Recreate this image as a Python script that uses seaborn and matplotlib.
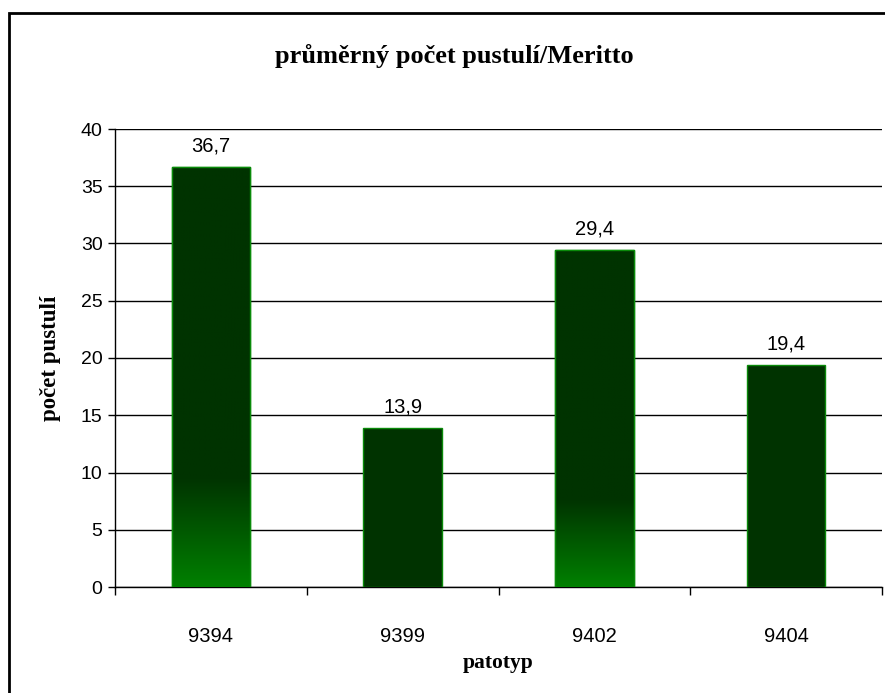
import numpy as np
import pandas as pd
import matplotlib
matplotlib.use("Agg")
import matplotlib.pyplot as plt
from matplotlib.colors import LinearSegmentedColormap
from matplotlib.patches import Rectangle
import seaborn as sns

# data
patotypes = ["9394", "9399", "9402", "9404"]
pustules = [36.7, 13.9, 29.4, 19.4]
gradient_bars = [True, False, True, False]
y_ticks = [0, 5, 10, 15, 20, 25, 30, 35, 40]

df = pd.DataFrame({"patotyp": patotypes, "pustule": pustules})

sns.set_theme(style="white")
plt.rcParams["font.family"] = ["Liberation Sans", "DejaVu Sans"]

DARK = "#003300"
BRIGHT = "#008000"
EDGE = "#0a8a0a"

fig = plt.figure(figsize=(8.85, 6.93), dpi=100)
fig.patch.set_facecolor("white")
ax = fig.add_axes([115 / 885, (693 - 587) / 693, (882 - 115) / 885, (587 - 129) / 693])

sns.barplot(data=df, x="patotyp", y="pustule", ax=ax, color=DARK,
            width=0.41, edgecolor=EDGE, linewidth=1.0, saturation=1, zorder=3)

# vertical fade towards the base of selected bars
cmap = LinearSegmentedColormap.from_list("fade", [BRIGHT, DARK])
for patch, grad in zip(ax.patches, gradient_bars):
    if not grad:
        continue
    x0, y0 = patch.get_x(), patch.get_y()
    w, h = patch.get_width(), patch.get_height()
    t = np.linspace(0, 1, 256)
    vals = np.clip(t / 0.26, 0, 1).reshape(-1, 1)
    im = ax.imshow(vals, cmap=cmap, aspect="auto", origin="lower",
                   extent=[x0, x0 + w, y0, y0 + h], zorder=3.5,
                   interpolation="bilinear")
    im.set_clip_path(patch)
    ax.add_patch(Rectangle((x0, y0), w, h, fill=False, edgecolor=EDGE,
                           linewidth=1.0, zorder=4))

# value labels
for patch, v in zip(ax.patches, pustules):
    ax.text(patch.get_x() + patch.get_width() / 2, v + 1.0,
            f"{v:.1f}".replace(".", ","), ha="center", va="bottom",
            fontsize=14.5, color="black", zorder=5)

ax.set_xlim(-0.5, len(patotypes) - 0.5)
ax.set_ylim(0, 40)
ax.set_yticks(y_ticks)
ax.yaxis.grid(True, color="black", linewidth=1.0, zorder=0)
ax.set_axisbelow(True)

for side in ["top", "right"]:
    ax.spines[side].set_visible(False)
for side in ["left", "bottom"]:
    ax.spines[side].set_color("black")
    ax.spines[side].set_linewidth(1.0)

ax.tick_params(axis="y", which="major", direction="out", length=5, width=1,
               color="black", labelsize=14, labelcolor="black", left=True, pad=4)
ax.set_xticks(np.arange(-0.5, len(patotypes) + 0.5, 1.0), minor=True)
ax.tick_params(axis="x", which="minor", direction="out", length=6, width=1,
               color="black", bottom=True)
ax.tick_params(axis="x", which="major", length=0, labelsize=14.5,
               labelcolor="black", pad=29)

serif = ["Liberation Serif", "DejaVu Serif"]
ax.set_xlabel("patotyp", family=serif, fontweight="bold", fontsize=15.5,
              labelpad=5, color="black")
ax.set_ylabel("počet pustulí", family=serif, fontweight="bold", fontsize=16.5,
              labelpad=14, color="black")
fig.text((272 + 636) / 2 / 885, 1 - 56 / 693, "průměrný počet pustulí/Meritto",
         family=serif, fontweight="bold", fontsize=19, ha="center", va="center",
         color="black")

# chart frame
fig.add_artist(Rectangle((9 / 885, -0.01), 2, 1 - 13 / 693 + 0.01,
                         transform=fig.transFigure, fill=False,
                         edgecolor="black", linewidth=2))

fig.savefig("out.png", dpi=100, facecolor="white")
